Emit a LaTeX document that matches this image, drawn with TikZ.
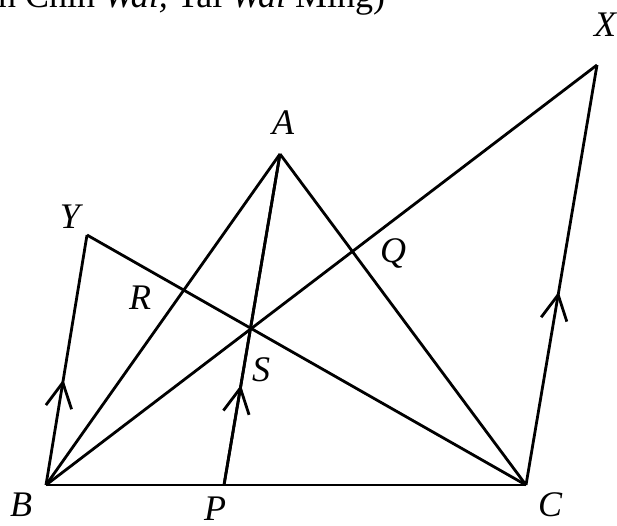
\documentclass[tikz,border=0pt]{standalone}
\usepackage{fontspec}
\setmainfont{Liberation Serif}
\usetikzlibrary{decorations.markings}
\tikzset{
  seg/.style={line width=2.8pt, line cap=butt},
  lbl/.style={font=\fontsize{36}{40}\selectfont\itshape, inner sep=0pt, anchor=center},
  midbarb/.style={postaction={decorate, decoration={markings,
      mark=at position #1 with {\draw[line width=2.8pt, line join=miter] (-25pt,13pt) -- (0,0) -- (-25pt,-13pt);}}}}
}
\begin{document}
\begin{tikzpicture}[x=1pt, y=-1pt]
\useasboundingbox (0,0) rectangle (617,525);
\clip (0,0) rectangle (617,525);
% vertices
\coordinate (B) at (46,485);
\coordinate (C) at (526,485);
\coordinate (P) at (224,485);
\coordinate (A) at (280,154);
\coordinate (Y) at (87,235);
\coordinate (X) at (597,65);
% segments
\draw[seg] (B) -- (C);
\draw[seg] (A) -- (B);
\draw[seg] (A) -- (C);
\draw[seg] (B) -- (X);
\draw[seg] (C) -- (Y);
\draw[seg] (A) -- (P);
\draw[seg, midbarb=0.41] (B) -- (Y);
\draw[seg, midbarb=0.293] (P) -- (A);
\draw[seg, midbarb=0.453] (C) -- (X);
% labels
\node[lbl] (lA) at (283,123) {A};
\node[lbl] (lB) at (21,505) {B};
\node[lbl] (lC) at (550,505) {C};
\node[lbl] (lP) at (215,509) {P};
\node[lbl] (lX) at (605,25) {X};
\node[lbl] (lY) at (70,217) {Y};
\node[lbl] (lR) at (140,298) {R};
\node[lbl] (lS) at (261,370) {S};
\node[lbl] (lQ) at (393,253) {Q};
% cut-off heading
\node[font=\fontsize{36}{40}\selectfont, inner sep=0pt, anchor=base west] (head) at (-2,7) {n Chin \textit{Wai,} Tai \textit{Wai} Ming)};
\end{tikzpicture}
\end{document}
